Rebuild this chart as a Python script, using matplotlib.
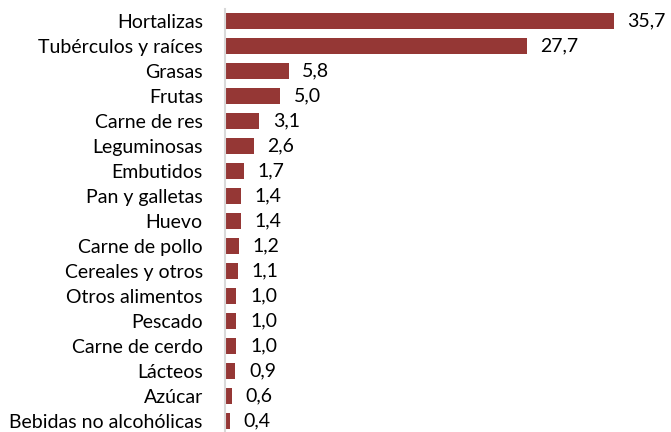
import matplotlib
matplotlib.use("Agg")
import matplotlib.pyplot as plt

categories = ["Hortalizas", "Tubérculos y raíces", "Grasas", "Frutas", "Carne de res",
              "Leguminosas", "Embutidos", "Pan y galletas", "Huevo", "Carne de pollo",
              "Cereales y otros", "Otros alimentos", "Pescado", "Carne de cerdo",
              "Lácteos", "Azúcar", "Bebidas no alcohólicas"]
values = [35.7, 27.7, 5.8, 5.0, 3.1, 2.6, 1.7, 1.4, 1.4, 1.2, 1.1, 1.0, 1.0, 1.0, 0.9, 0.6, 0.4]

plt.rcParams['font.family'] = ['Lato', 'DejaVu Sans']
fig = plt.figure(figsize=(6.71, 4.32), dpi=100)
ax = fig.add_axes([225/671, 0, 446/671, 1])
pos = list(range(len(categories)))
ax.barh(pos, values, height=0.64, color="#953735", left=0.05)
ax.set_xlim(0, 41.0)
ax.set_ylim(16 + 11/25, -21/25)
ax.set_yticks(pos)
ax.set_yticklabels(categories, fontsize=14)
ax.tick_params(axis='y', length=0, pad=16)
ax.set_xticks([])
for s in ["top", "right", "bottom"]:
    ax.spines[s].set_visible(False)
ax.spines["left"].set_color("#d9d9d9")
ax.spines["left"].set_linewidth(1.5)
ax.spines["left"].set_bounds(-0.5, 16.5)
for p, v in zip(pos, values):
    ax.text(v + 1.3, p, f"{v:.1f}".replace(".", ","), va="center", ha="left", fontsize=14)
fig.savefig("out.png", dpi=100)
